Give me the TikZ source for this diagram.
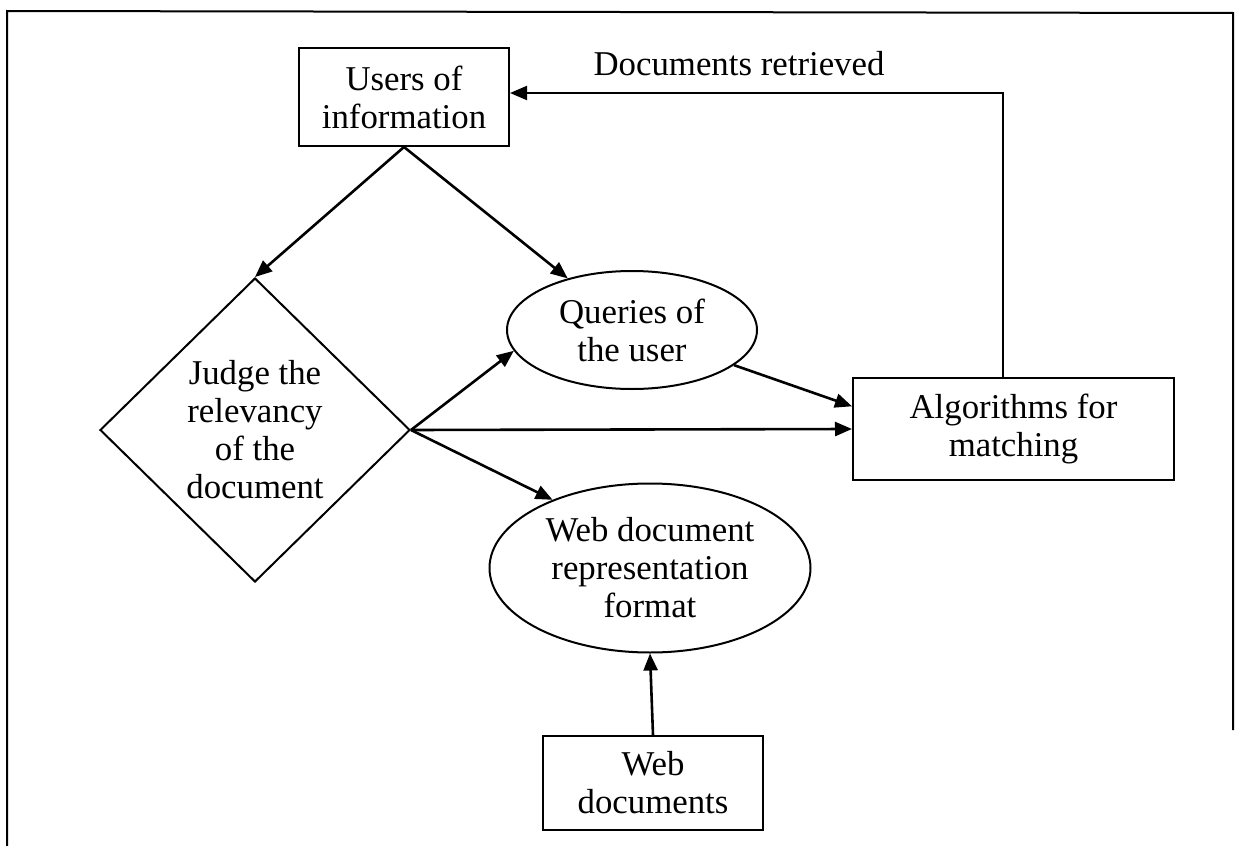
\documentclass[tikz,border=0pt]{standalone}
\usepackage{fontspec}
\setmainfont{Liberation Serif}
\usepackage{tikz}
\usetikzlibrary{arrows.meta,positioning,shapes.geometric}

\begin{document}
\begin{tikzpicture}[
x=0.5pt, y=-0.5pt,
every node/.style={font=\fontsize{17.4pt}{19pt}\selectfont, align=center, text centered},
box/.style={rectangle, draw, line width=1pt, inner sep=0pt},
bubble/.style={ellipse, draw, line width=1pt, inner sep=0pt},
decision/.style={diamond, draw, line width=1pt, inner sep=0pt},
arrow/.style={-{Triangle[length=8.5pt,width=7pt]}, line width=1.3pt},
frame_line/.style={line width=1pt}
]

\useasboundingbox (0,0) rectangle (1239,846);

% Frame

\draw[frame_line] (7,846) -- (7,11) -- (1233,13) -- (1233,730);

% Users of information

\node[box, minimum width=105pt, minimum height=49pt] (users) at (404,97) {Users of\\information};

% Documents retrieved

\node (retrieved) at (739,64) {Documents retrieved};

% Judge the relevancy

\node[decision, minimum width=155pt, minimum height=152pt] (judge) at (255,430) {Judge the\\relevancy\\of the\\document};

% Queries of the user

\node[bubble, minimum width=125pt, minimum height=59pt] (queries) at (632,330) {Queries of\\the user};

% Algorithms for matching

\node[box, minimum width=160.5pt, minimum height=51pt] (algo) at (1013.5,429) {Algorithms for\\matching};

% Web document representation format

\node[bubble, minimum width=160.5pt, minimum height=84.5pt] (webrep) at (650,568) {Web document\\representation\\format};

% Web documents

\node[box, minimum width=110pt, minimum height=47pt] (webdocs) at (653,783) {Web\\documents};

% Connectors

\coordinate (corner) at (1003,93);

\draw[arrow] (users.south) -- (judge.north);
\draw[arrow] (users.south) -- (queries);
\draw[arrow] (judge.east) -- (queries.190);
\draw[arrow] (judge.east) -- (algo.west);
\draw[arrow] (judge.east) -- (webrep.145);
\draw[arrow] (queries.-19) -- (algo.172.5);
\draw[arrow] (webdocs.north) -- (webrep.south);
\draw[arrow, line width=1pt] (algo.north -| corner) -- (corner) -- (users.east |- corner);

\end{tikzpicture}
\end{document}
